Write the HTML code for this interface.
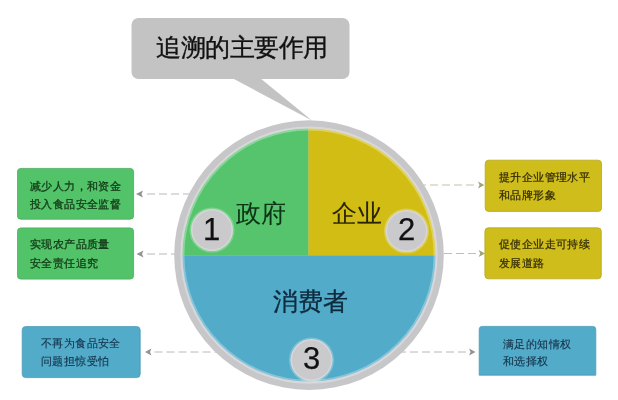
<!DOCTYPE html>
<html><head><meta charset="utf-8">
<style>
html,body{margin:0;padding:0;background:#fff;}
body{width:618px;height:400px;position:relative;overflow:hidden;font-family:"Liberation Sans",sans-serif;}
svg{position:absolute;left:0;top:0;}
.t{position:absolute;white-space:nowrap;line-height:1;}
.bx{font-size:12px;transform:scale(0.948);transform-origin:0 0;-webkit-text-stroke:0.35px currentColor;}
.big{font-size:25px;transform:scale(0.98);transform-origin:0 0;-webkit-text-stroke:0.1px currentColor;}
.num{font-size:31px;-webkit-text-stroke:0.25px currentColor;}
</style></head><body><div style="position:absolute;left:0;top:0;width:618px;height:400px;filter:blur(0.4px)">
<svg width="618" height="400" viewBox="0 0 618 400">
  <!-- dashed connectors -->
  <g stroke="#b8b8b8" stroke-width="1" stroke-dasharray="8 4" fill="none">
    <line x1="147" y1="194" x2="300" y2="194"/>
    <line x1="147" y1="254" x2="300" y2="254"/>
    <line x1="154.5" y1="352" x2="300" y2="352"/>
    <line x1="474" y1="185" x2="320" y2="185" stroke="#c2c2a0"/>
    <line x1="476" y1="253.5" x2="320" y2="253.5" stroke="#c2c2a0"/>
    <line x1="466" y1="352" x2="320" y2="352"/>
  </g>
  <g fill="#8e948f">
    <polygon points="136,194 143,190.5 141.5,194 143,197.5"/>
    <polygon points="136.5,254 143.5,250.5 142,254 143.5,257.5"/>
    <polygon points="145,352 151.5,348.5 150,352 151.5,355.5"/>
    <polygon points="484.3,185 478,181.5 479.5,185 478,188.5" fill="#a3a27a"/>
    <polygon points="485,253.5 478.7,250 480.2,253.5 478.7,257" fill="#a3a27a"/>
    <polygon points="475.5,352 469,348.5 470.5,352 469,355.5"/>
  </g>
  <!-- callout -->
  <rect x="131.5" y="18" width="218" height="61" rx="7" fill="#c3c3c3"/>
  <polygon points="232,78 260,78 312,120.5" fill="#c3c3c3"/>
  <!-- main circle -->
  <circle cx="309" cy="255.1" r="134.8" fill="#c7c7ca"/>
  <clipPath id="cp"><circle cx="309" cy="255.1" r="126.6"/></clipPath>
  <g clip-path="url(#cp)">
    <rect x="170" y="110" width="138.5" height="145.5" fill="#55c46c"/>
    <rect x="308.5" y="110" width="150" height="145.5" fill="#d2bd14"/>
    <rect x="170" y="255.5" width="300" height="150" fill="#52abc9"/>
  </g>
  <circle cx="309" cy="255.1" r="126.6" fill="none" stroke="rgba(255,255,255,0.3)" stroke-width="4"/>
  <!-- number circles -->
  <g fill="#cacacc" stroke="rgba(255,255,255,0.25)" stroke-width="3">
    <circle cx="212" cy="230" r="21"/>
    <circle cx="406.5" cy="231" r="21"/>
    <circle cx="311.5" cy="360" r="21"/>
  </g>
  <!-- side boxes -->
  <g stroke-width="0.8">
  <rect x="17.4" y="168.4" width="116.2" height="50.8" rx="3.5" fill="#53c36a" stroke="#4aab5e"/>
  <rect x="17.4" y="227.9" width="116.2" height="51.2" rx="3.5" fill="#53c36a" stroke="#4aab5e"/>
  <rect x="485.2" y="160.2" width="116.4" height="51.2" rx="3.5" fill="#cfbd1c" stroke="#b8a816"/>
  <rect x="484.9" y="227.8" width="116.4" height="51" rx="3.5" fill="#cfbd1c" stroke="#b8a816"/>
  <rect x="22.2" y="326.6" width="118" height="51" rx="3.5" fill="#52abc9" stroke="#4a9cb8"/>
  <path d="M479.2 329.4 a3 3 0 0 1 3 -3 h110.6 a3 3 0 0 1 3 3 v45.8 h-116.6 z" fill="#52abc9" stroke="#4a9cb8"/>
  </g>
</svg>

<div class="t" style="left:156px;top:35px;font-size:25px;transform:scale(0.982);transform-origin:0 0;-webkit-text-stroke:0.35px currentColor;color:#111">追溯的主要作用</div>

<div class="t big" style="left:236px;top:201px;color:#0d3315">政府</div>
<div class="t big" style="left:332px;top:201px;color:#2a2405">企业</div>
<div class="t" style="left:273px;top:289px;font-size:25px;-webkit-text-stroke:0.3px currentColor;color:#0e2a3d">消费者</div>

<div class="t num" style="left:203px;top:214px;color:#111">1</div>
<div class="t num" style="left:398px;top:214px;color:#111">2</div>
<div class="t num" style="left:303px;top:343px;color:#111">3</div>

<div class="t bx" style="left:30px;top:180.5px;color:#15401a">减少人力，和资金</div>
<div class="t bx" style="left:30px;top:198.5px;color:#15401a">投入食品安全监督</div>
<div class="t bx" style="left:30px;top:239px;color:#15401a">实现农产品质量</div>
<div class="t bx" style="left:30px;top:258px;color:#15401a">安全责任追究</div>

<div class="t bx" style="left:499px;top:171.5px;color:#332c06;-webkit-text-stroke:0.25px #332c06">提升企业管理水平</div>
<div class="t bx" style="left:499px;top:190px;color:#332c06;-webkit-text-stroke:0.25px #332c06">和品牌形象</div>
<div class="t bx" style="left:499px;top:238.5px;color:#332c06;-webkit-text-stroke:0.25px #332c06">促使企业走可持续</div>
<div class="t bx" style="left:499px;top:258px;color:#332c06;-webkit-text-stroke:0.25px #332c06">发展道路</div>

<div class="t bx" style="left:41px;top:338px;color:#15334a;-webkit-text-stroke:0.15px #15334a">不再为食品安全</div>
<div class="t bx" style="left:41px;top:356px;color:#15334a;-webkit-text-stroke:0.15px #15334a">问题担惊受怕</div>
<div class="t bx" style="left:503px;top:338.5px;color:#15334a;-webkit-text-stroke:0.15px #15334a">满足的知情权</div>
<div class="t bx" style="left:503px;top:355.5px;color:#15334a;-webkit-text-stroke:0.15px #15334a">和选择权</div>
</div></body></html>
